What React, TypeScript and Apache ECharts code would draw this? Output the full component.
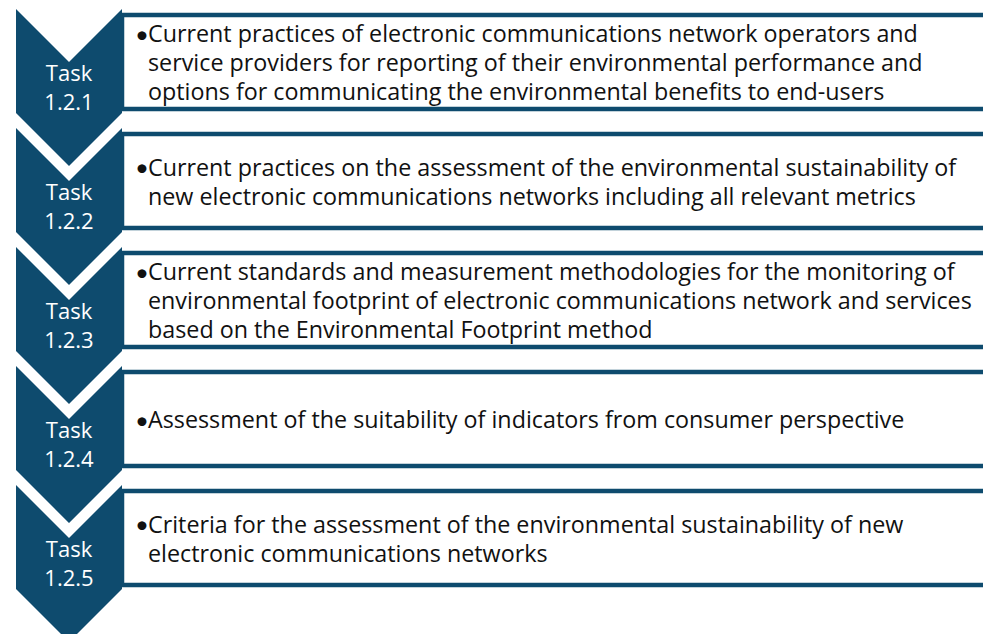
import React, { useEffect, useRef } from "react";
import * as echarts from "echarts";

const taskWord = "Task";
const taskIds = ["1.2.1", "1.2.2", "1.2.3", "1.2.4", "1.2.5"];
const descriptions: string[][] = [
  [
    "Current practices of electronic communications network operators and",
    "service providers for reporting of their environmental performance and",
    "options for communicating the environmental benefits to end-users",
  ],
  [
    "Current practices on the assessment of the environmental sustainability of",
    "new electronic communications networks including all relevant metrics",
  ],
  [
    "Current standards and measurement methodologies for the monitoring of",
    "environmental footprint of electronic communications network and services",
    "based on the Environmental Footprint method",
  ],
  ["Assessment of the suitability of indicators from consumer perspective"],
  [
    "Criteria for the assessment of the environmental sustainability of new",
    "electronic communications networks",
  ],
];

const DARK = "#0e4b6e";
const FONT = "'Open Sans', Lato, sans-serif";

export default function App() {
  const ref = useRef<HTMLDivElement>(null);
  useEffect(() => {
    document.body.style.margin = "0";
    const chart = echarts.init(ref.current!, null, { renderer: "svg" });
    const top0 = 9;
    const step = 119;
    const x0 = 16;
    const x1 = 122;
    const cx = (x0 + x1) / 2;
    const half = (x1 - x0) / 2;
    const side = 104;
    const fs = 23.3;
    const tfs = 22;
    const lineH = 29;
    const elements: any[] = [];
    taskIds.forEach((id, i) => {
      const t = top0 + i * step;
      elements.push({
        type: "rect",
        shape: { x: x1, y: t + 6, width: 900, height: 94 },
        style: { fill: "#ffffff", stroke: DARK, lineWidth: 4.5 },
        z: 1,
      });
      elements.push({
        type: "polygon",
        shape: {
          points: [
            [x0, t],
            [cx, t + half],
            [x1, t],
            [x1, t + side],
            [cx, t + side + half],
            [x0, t + side],
          ],
        },
        style: { fill: DARK },
        z: 2,
      });
      elements.push({
        type: "text",
        x: cx,
        y: t + 63,
        style: { text: taskWord, font: `${tfs}px ${FONT}`, fill: "#ffffff", align: "center", verticalAlign: "middle" },
        z: 3,
      });
      elements.push({
        type: "text",
        x: cx,
        y: t + 92,
        style: { text: id, font: `${tfs}px ${FONT}`, fill: "#ffffff", align: "center", verticalAlign: "middle" },
        z: 3,
      });
      const lines = descriptions[i];
      const center = t + 53;
      const startY = center - ((lines.length - 1) * lineH) / 2;
      elements.push({
        type: "text",
        x: 135,
        y: startY,
        style: { text: "•", font: `24px Lato, sans-serif`, fill: "#111111", align: "left", verticalAlign: "middle" },
        z: 3,
      });
      lines.forEach((ln, j) => {
        elements.push({
          type: "text",
          x: 148,
          y: startY + j * lineH,
          style: { text: ln, font: `${fs}px ${FONT}`, fill: "#111111", align: "left", verticalAlign: "middle" },
          z: 3,
        });
      });
    });
    chart.setOption({
      animation: false,
      backgroundColor: "#ffffff",
      graphic: { elements },
    });
    return () => chart.dispose();
  }, []);
  return <div ref={ref} style={{ width: 983, height: 634 }} />;
}
